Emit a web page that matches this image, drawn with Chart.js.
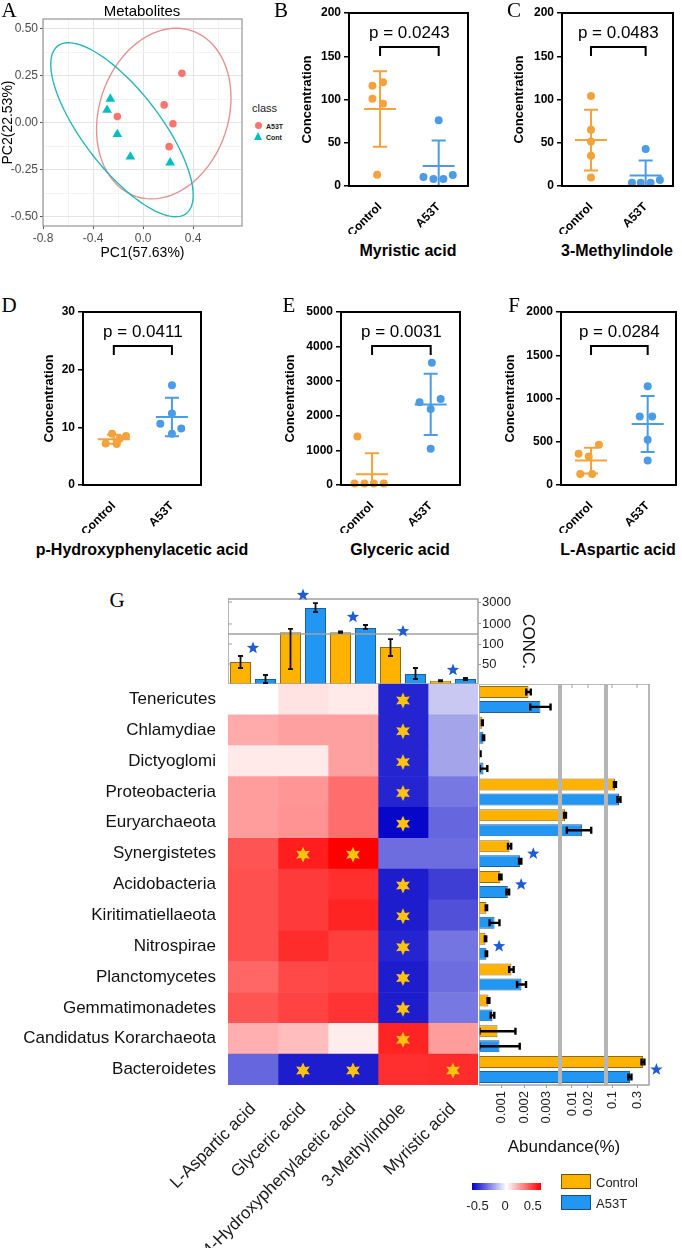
<!DOCTYPE html>
<html>
<head>
<meta charset="utf-8">
<script src="https://cdn.jsdelivr.net/npm/chart.js@4.4.1/dist/chart.umd.min.js"></script>
<style>
  html, body { margin: 0; padding: 0; background: #fff; }
  body { position: relative; width: 682px; height: 1248px; overflow: hidden; font-family: "Liberation Sans", Arial, sans-serif; }
  canvas { position: absolute; }
</style>
</head>
<body>
<script>
const FONT = '"Liberation Sans", Arial, sans-serif';
const SERIF = '"Liberation Serif", "Times New Roman", serif';
const ORANGE = '#F4A33C';
const BLUE = '#4B9BE6';
const BAR_ORANGE = '#FFB300';
const BAR_BLUE = '#2196F3';

// ---- A: PCA of metabolites
const pcaA53TX = [0.31, 0.168, 0.238, -0.206, 0.208];
const pcaA53TY = [0.264, 0.096, -0.004, 0.034, -0.126];
const pcaContX = [-0.262, -0.288, -0.206, -0.102, 0.216];
const pcaContY = [0.128, 0.069, -0.06, -0.18, -0.211];
// confidence ellipses: centre x, centre y, axis vector u, axis vector v
const ellA53T = [0.165, 0.05, 0.537, 0.084, 0, 0.446];
const ellCont = [-0.169, -0.036, 0.569, -0.348, 0, 0.305];
const pcaXTicks = [-0.8, -0.4, 0.0, 0.4];
const pcaYTicks = [-0.5, -0.25, 0, 0.25, 0.5];

// ---- B-F: concentrations per group
const groups = ['Control', 'A53T'];
const myrCtrl = [120, 116, 101, 95, 13];
const myrCtrlJit = [0.05, -0.13, -0.13, 0.05, -0.05];
const myrA53T = [76, 10.4, 8, 8, 12.7];
const myrA53TJit = [0, -0.26, -0.09, 0.08, 0.24];
const myrTicks = [0, 50, 100, 150, 200];

const mIndCtrl = [104, 65, 51.5, 35, 9.7];
const mIndCtrlJit = [0, 0, 0, 0, 0];
const mIndA53T = [42.7, 3.9, 3.9, 3.9, 7];
const mIndA53TJit = [0, -0.25, -0.09, 0.09, 0.26];
const mIndTicks = [0, 50, 100, 150, 200];

const hpaCtrl = [8.9, 8.5, 7.2, 7.1, 8.0];
const hpaCtrlJit = [-0.03, 0.21, -0.14, 0.05, 0.1];
const hpaA53T = [17.3, 12.4, 10.6, 9.8, 8.9];
const hpaA53TJit = [0, 0, -0.2, 0.16, 0];
const hpaTicks = [0, 10, 20, 30];

const glyCtrl = [1400, 40, 40, 40, 40];
const glyCtrlJit = [-0.25, -0.3, -0.13, 0.03, 0.2];
const glyA53T = [3530, 2485, 2390, 2195, 1045];
const glyA53TJit = [0.02, 0.17, -0.19, 0, 0];
const glyTicks = [0, 1000, 2000, 3000, 4000, 5000];

const aspCtrl = [464, 360, 329, 128, 128];
const aspCtrlJit = [0.14, -0.22, -0.04, -0.19, 0.02];
const aspA53T = [1141, 793, 793, 522, 282];
const aspA53TJit = [0, 0.08, -0.14, 0, 0];
const aspTicks = [0, 500, 1000, 1500, 2000];

// ---- G: concentrations (top), correlations (heatmap), abundance (right)
const metabolites = ['L-Aspartic acid', 'Glyceric acid', '4-Hydroxyphenylacetic acid', '3-Methylindole', 'Myristic acid'];
const concCtrl = [55, 660, 660, 92.5, 8];
const concCtrlLo = [40, 37, 640, 70, 6.5];
const concCtrlHi = [70, 780, 690, 112, 9.5];
const concA53T = [12.5, 2230, 820, 25, 12.5];
const concA53TLo = [2.5, 1820, 780, 12.5, 10];
const concA53THi = [22.5, 2850, 950, 40, 15];
const concSig = [true, true, true, true, true];
const concTicks = [50, 100, 1000, 3000];

const phyla = ['Tenericutes', 'Chlamydiae', 'Dictyoglomi', 'Proteobacteria', 'Euryarchaeota', 'Synergistetes',
  'Acidobacteria', 'Kiritimatiellaeota', 'Nitrospirae', 'Planctomycetes', 'Gemmatimonadetes',
  'Candidatus Korarchaeota', 'Bacteroidetes'];
const corrLAsp     = [0.00, 0.23, 0.06, 0.27, 0.27, 0.47, 0.48, 0.48, 0.48, 0.42, 0.47, 0.22, -0.42];
const corrGlyceric = [0.08, 0.26, 0.06, 0.29, 0.30, 0.62, 0.54, 0.54, 0.58, 0.50, 0.52, 0.18, -0.62];
const corrHPA      = [0.06, 0.26, 0.26, 0.40, 0.40, 0.70, 0.57, 0.60, 0.53, 0.52, 0.56, 0.05, -0.62];
const corrMInd     = [-0.60, -0.60, -0.60, -0.60, -0.68, -0.40, -0.62, -0.62, -0.60, -0.62, -0.62, 0.60, 0.57];
const corrMyr      = [-0.15, -0.25, -0.25, -0.37, -0.42, -0.40, -0.53, -0.48, -0.38, -0.40, -0.37, 0.27, 0.58];
// rows holding a significance star, per metabolite column
const starLAsp = [];
const starGlyceric = [5, 12];
const starHPA = [5, 12];
const starMInd = [0, 1, 2, 3, 4, 6, 7, 8, 9, 10, 11];
const starMyr = [12];
const legendTicks = [-0.5, 0, 0.5];

const abunCtrl = [0.0022, 0.00015, 0.00005, 0.114, 0.0074, 0.00136, 0.00095, 0.00033, 0.00029, 0.00144, 0.00042, 0.00082, 0.39];
const abunCtrlErr = [0.0001, 0.00002, 0.00002, 0.005, 0.0003, 0.00007, 0.00005, 0.00003, 0.00003, 0.0001, 0.00004, 0.0008, 0.025];
const abunA53T = [0.00273, 0.0002, 0.0002, 0.136, 0.0155, 0.00183, 0.00128, 0.00069, 0.00033, 0.00189, 0.0006, 0.00091, 0.22];
const abunA53TErr = [0.00045, 0.00003, 0.00017, 0.009, 0.0075, 0.00005, 0.00006, 0.00022, 0.00003, 0.0002, 0.00008, 0.0009, 0.015];
const abunSig = [false, false, false, false, false, true, true, false, true, false, false, false, true];
const abunTicks = [0.001, 0.002, 0.003, 0.01, 0.02, 0.1, 0.3];

Chart.defaults.font.family = FONT;
Chart.defaults.color = '#000';

// axis with broken segments (linear or log each)
class BrokenScale extends Chart.LinearScale {
  getPixelForValue(value) {
    const segs = this.options.segments;
    const total = segs.reduce((s, g) => s + g.size, 0);
    let acc = 0, pos = total;
    for (let k = 0; k < segs.length; k++) {
      const g = segs[k];
      if (value <= g.max || k === segs.length - 1) {
        let f = g.log
          ? (Math.log(Math.max(value, 1e-9)) - Math.log(g.min)) / (Math.log(g.max) - Math.log(g.min))
          : (value - g.min) / (g.max - g.min);
        if (k > 0) f = Math.max(f, 0);
        pos = acc + f * g.size;
        break;
      }
      acc += g.size;
    }
    const t = pos / total;
    return this.isHorizontal() ? this.left + t * this.width : this.bottom - t * this.height;
  }
  getValueForPixel() { return 0; }
}
BrokenScale.id = 'broken';
BrokenScale.defaults = Chart.LinearScale.defaults;
Chart.register(BrokenScale);

// keep chart areas exactly where they are put
function noPad(s) {
  s.paddingTop = 0; s.paddingBottom = 0; s.paddingLeft = 0; s.paddingRight = 0;
}

function place(id, left, top, w, h) {
  const c = document.createElement('canvas');
  c.id = id;
  c.width = w; c.height = h;
  c.style.left = left + 'px'; c.style.top = top + 'px';
  c.style.width = w + 'px'; c.style.height = h + 'px';
  document.body.appendChild(c);
  return c;
}

function addText(text, x, y, style, align) {
  const d = document.createElement('div');
  d.textContent = text;
  d.style.position = 'absolute';
  d.style.left = x + 'px';
  d.style.top = y + 'px';
  d.style.whiteSpace = 'nowrap';
  d.style.lineHeight = '1';
  d.style.color = '#000';
  d.style.transform = align === 'left' ? 'translate(0,-50%)' : 'translate(-50%,-50%)';
  Object.assign(d.style, style || {});
  document.body.appendChild(d);
  return d;
}

function addBox(x, y, w, h, style) {
  const d = document.createElement('div');
  d.style.position = 'absolute';
  d.style.left = x + 'px'; d.style.top = y + 'px';
  d.style.width = w + 'px'; d.style.height = h + 'px';
  d.style.boxSizing = 'border-box';
  Object.assign(d.style, style);
  document.body.appendChild(d);
}

function star(ctx, cx, cy, n, ro, ri) {
  ctx.beginPath();
  for (let k = 0; k < n * 2; k++) {
    const ang = -Math.PI / 2 + k * Math.PI / n;
    const rr = k % 2 === 0 ? ro : ri;
    ctx.lineTo(cx + rr * Math.cos(ang), cy + rr * Math.sin(ang));
  }
  ctx.closePath();
  ctx.fill();
}

const quiet = { legend: { display: false }, tooltip: { enabled: false } };

// plugins
const frameBox = {
  id: 'frameBox',
  afterDraw(chart, args, opts) {
    const { ctx, chartArea: a } = chart;
    ctx.save();
    ctx.strokeStyle = opts.color || '#000';
    ctx.lineWidth = opts.width || 2;
    ctx.strokeRect(a.left, a.top, a.right - a.left, a.bottom - a.top);
    ctx.restore();
  }
};

const ellipses = {
  id: 'ellipses',
  beforeDatasetsDraw(chart) {
    const { ctx, scales: { x, y } } = chart;
    ctx.save();
    chart.data.datasets.forEach(ds => {
      const [cx, cy, ux, uy, vx, vy] = ds.ell;
      ctx.strokeStyle = ds.ellColor;
      ctx.lineWidth = 1.4;
      ctx.beginPath();
      for (let k = 0; k <= 120; k++) {
        const t = k / 120 * Math.PI * 2;
        const px = x.getPixelForValue(cx + ux * Math.cos(t) + vx * Math.sin(t));
        const py = y.getPixelForValue(cy + uy * Math.cos(t) + vy * Math.sin(t));
        if (k === 0) ctx.moveTo(px, py); else ctx.lineTo(px, py);
      }
      ctx.stroke();
    });
    ctx.restore();
  }
};

const meanSd = {
  id: 'meanSd',
  afterDatasetsDraw(chart) {
    const { ctx, chartArea: a, scales: { x, y } } = chart;
    ctx.save();
    ctx.beginPath();
    ctx.rect(a.left, a.top, a.right - a.left, a.bottom - a.top);
    ctx.clip();
    chart.data.datasets.forEach((ds, i) => {
      const vals = ds.data.map(p => p.y);
      const n = vals.length;
      const mean = vals.reduce((s, v) => s + v, 0) / n;
      const sd = Math.sqrt(vals.reduce((s, v) => s + (v - mean) ** 2, 0) / (n - 1));
      const cx = x.getPixelForValue(i + 1);
      const ym = y.getPixelForValue(mean);
      const y1 = y.getPixelForValue(mean + sd);
      const y0 = y.getPixelForValue(mean - sd);
      ctx.strokeStyle = ds.backgroundColor;
      ctx.lineWidth = 2;
      ctx.beginPath();
      ctx.moveTo(cx - 16, ym); ctx.lineTo(cx + 16, ym);
      ctx.moveTo(cx, y0); ctx.lineTo(cx, y1);
      ctx.moveTo(cx - 7, y1); ctx.lineTo(cx + 7, y1);
      ctx.moveTo(cx - 7, y0); ctx.lineTo(cx + 7, y0);
      ctx.stroke();
    });
    ctx.restore();
  }
};

const bracket = {
  id: 'bracket',
  afterDraw(chart, args, opts) {
    const { ctx, chartArea: a, scales: { x } } = chart;
    const x1 = x.getPixelForValue(1), x2 = x.getPixelForValue(2);
    const yb = a.top + 34;
    ctx.save();
    ctx.strokeStyle = '#000';
    ctx.lineWidth = 2;
    ctx.beginPath();
    ctx.moveTo(x1, yb + 9); ctx.lineTo(x1, yb); ctx.lineTo(x2, yb); ctx.lineTo(x2, yb + 9);
    ctx.stroke();
    ctx.fillStyle = '#000';
    ctx.font = '17px ' + FONT;
    ctx.textAlign = 'center';
    ctx.textBaseline = 'middle';
    ctx.fillText(opts.text, (x1 + x2) / 2, a.top + 20);
    ctx.restore();
  }
};

// ---- panel A
const cA = place('pca', 0, 0, 250, 262);
new Chart(cA, {
  type: 'scatter',
  data: {
    datasets: [
      { data: pcaA53TX.map((v, i) => ({ x: v, y: pcaA53TY[i] })), backgroundColor: '#F8766D', pointRadius: 3.8,
        pointStyle: 'circle', borderWidth: 0, ell: ellA53T, ellColor: '#E39490' },
      { data: pcaContX.map((v, i) => ({ x: v, y: pcaContY[i] })), backgroundColor: '#00BFC4', pointRadius: 5.6,
        pointStyle: 'triangle', borderWidth: 0, ell: ellCont, ellColor: '#27B7BA' }
    ]
  },
  options: {
    responsive: false, animation: false, devicePixelRatio: 1, events: [],
    layout: { padding: { top: 19, right: 8, left: 0, bottom: 0 } },
    plugins: { ...quiet, frameBox: { color: '#9e9e9e', width: 1.3 } },
    scales: {
      x: {
        type: 'linear', min: -0.8, max: 0.79,
        afterBuildTicks: s => {
          const t = [];
          pcaXTicks.forEach((v, i) => {
            t.push({ value: v, major: true });
            const step = i < pcaXTicks.length - 1 ? pcaXTicks[i + 1] - v : v - pcaXTicks[i - 1];
            if (v + step / 2 < 0.79) t.push({ value: v + step / 2, major: false });
          });
          s.ticks = t;
        },
        afterFit: s => { s.height = 36; },
        ticks: { autoSkip: false, maxRotation: 0, padding: 2, color: '#4d4d4d', font: { size: 12 },
          callback: (v, i, ticks) => ticks[i].major ? v.toFixed(1) : '' },
        grid: { color: c => c.tick && c.tick.major ? '#e4e4e4' : '#f3f3f3',
          tickColor: c => c.tick && c.tick.major ? '#555' : 'rgba(0,0,0,0)', tickLength: 3 },
        border: { display: false },
        title: { display: true, text: 'PC1(57.63%)', color: '#000', font: { size: 14 }, padding: 0 }
      },
      y: {
        type: 'linear', min: -0.548, max: 0.553,
        afterBuildTicks: s => {
          const t = [];
          pcaYTicks.forEach((v, i) => {
            t.push({ value: v, major: true });
            if (i < pcaYTicks.length - 1) t.push({ value: (v + pcaYTicks[i + 1]) / 2, major: false });
          });
          s.ticks = t;
        },
        afterFit: s => { s.width = 43; },
        ticks: { autoSkip: false, padding: 2, color: '#4d4d4d', font: { size: 12 },
          callback: (v, i, ticks) => ticks[i].major ? v.toFixed(2) : '' },
        grid: { color: c => c.tick && c.tick.major ? '#e4e4e4' : '#f3f3f3',
          tickColor: c => c.tick && c.tick.major ? '#555' : 'rgba(0,0,0,0)', tickLength: 3 },
        border: { display: false },
        title: { display: true, text: 'PC2(22.53%)', color: '#000', font: { size: 14 }, padding: 0 }
      }
    }
  },
  plugins: [ellipses, frameBox]
});

// ---- panels B-F
function dotPanel(id, box, titleX, yTicks, ctrl, ctrlJit, mut, mutJit, pText) {
  const [l, t, r, b] = box;
  const cl = titleX - 8, ct = t - 13;
  const w = r + 6 - cl, h = b + 48 - ct;
  const cv = place(id, cl, ct, w, h);
  return new Chart(cv, {
    type: 'scatter',
    data: {
      datasets: [
        { data: ctrl.map((v, i) => ({ x: 1 + ctrlJit[i], y: v })), backgroundColor: ORANGE, pointRadius: 4,
          borderWidth: 0, clip: false },
        { data: mut.map((v, i) => ({ x: 2 + mutJit[i], y: v })), backgroundColor: BLUE, pointRadius: 4,
          borderWidth: 0, clip: false }
      ]
    },
    options: {
      responsive: false, animation: false, devicePixelRatio: 1, events: [],
      layout: { padding: { top: 13, right: 6, left: 0, bottom: 0 } },
      plugins: { ...quiet, frameBox: { color: '#000', width: 2 }, bracket: { text: pText } },
      scales: {
        x: {
          type: 'linear', min: 0.47, max: 2.5,
          afterBuildTicks: s => { s.ticks = groups.map((g, i) => ({ value: i + 1 })); },
          afterFit: s => { s.height = 48; noPad(s); },
          ticks: { autoSkip: false, minRotation: 45, maxRotation: 45, padding: 6, color: '#000',
            font: { size: 12, weight: 'bold' }, callback: v => groups[v - 1] },
          grid: { display: false },
          border: { display: false }
        },
        y: {
          type: 'linear', min: yTicks[0], max: yTicks[yTicks.length - 1],
          afterBuildTicks: s => { s.ticks = yTicks.map(v => ({ value: v })); },
          afterFit: s => { s.width = l - cl; noPad(s); },
          ticks: { autoSkip: false, padding: 3, color: '#000', font: { size: 12, weight: 'bold' }, callback: v => String(v) },
          grid: { drawOnChartArea: false, drawTicks: true, tickLength: 5, color: '#000', lineWidth: 1.5 },
          border: { display: false },
          title: { display: true, text: 'Concentration', color: '#000', font: { size: 13, weight: 'bold' }, padding: 0 }
        }
      }
    },
    plugins: [frameBox, meanSd, bracket]
  });
}

dotPanel('myr', [349, 13, 468, 186], 308, myrTicks, myrCtrl, myrCtrlJit, myrA53T, myrA53TJit, 'p = 0.0243');
dotPanel('mind', [562, 13, 673, 186], 520, mIndTicks, mIndCtrl, mIndCtrlJit, mIndA53T, mIndA53TJit, 'p = 0.0483');
dotPanel('hpa', [83, 312, 201, 485], 50, hpaTicks, hpaCtrl, hpaCtrlJit, hpaA53T, hpaA53TJit, 'p = 0.0411');
dotPanel('gly', [341, 312, 460, 485], 291, glyTicks, glyCtrl, glyCtrlJit, glyA53T, glyA53TJit, 'p = 0.0031');
dotPanel('asp', [561, 312, 676, 485], 511, aspTicks, aspCtrl, aspCtrlJit, aspA53T, aspA53TJit, 'p = 0.0284');

// ---- G: concentration bars on a broken axis
const concPlugin = {
  id: 'concPlugin',
  afterDatasetsDraw(chart) {
    const { ctx, chartArea: a, scales: { x, y } } = chart;
    const segs = y.options.segments;
    ctx.save();
    ctx.strokeStyle = '#a0a0a0';
    ctx.lineWidth = 1.5;
    ctx.strokeRect(a.left, a.top, a.right - a.left, a.bottom - a.top);
    const yBreak = y.getPixelForValue(segs[0].max);
    ctx.beginPath(); ctx.moveTo(a.left, yBreak); ctx.lineTo(a.right, yBreak); ctx.stroke();
    ctx.lineWidth = 1;
    ctx.beginPath();
    y.ticks.forEach(t => { const p = y.getPixelForValue(t.value); ctx.moveTo(a.left, p); ctx.lineTo(a.left + 4, p); });
    ctx.stroke();
    // error bars
    ctx.strokeStyle = '#111';
    ctx.lineWidth = 1.8;
    const tops = [];
    chart.data.datasets.forEach((ds, di) => {
      const meta = chart.getDatasetMeta(di);
      ds.data.forEach((v, i) => {
        const bx = meta.data[i].x;
        const pLo = y.getPixelForValue(ds.lo[i]), pHi = y.getPixelForValue(ds.hi[i]);
        ctx.beginPath();
        ctx.moveTo(bx, pLo); ctx.lineTo(bx, pHi);
        ctx.moveTo(bx - 2.5, pLo); ctx.lineTo(bx + 2.5, pLo);
        ctx.moveTo(bx - 2.5, pHi); ctx.lineTo(bx + 2.5, pHi);
        ctx.stroke();
        tops[i] = Math.min(tops[i] === undefined ? Infinity : tops[i], pHi);
      });
    });
    ctx.fillStyle = '#1F5BD6';
    concSig.forEach((s, i) => { if (s) star(ctx, x.getPixelForValue(i), tops[i] - 8, 5, 6.5, 2.7); });
    ctx.restore();
  }
};

const cTop = place('conc', 228, 585, 310, 99);
new Chart(cTop, {
  type: 'bar',
  data: {
    labels: metabolites,
    datasets: [
      { data: concCtrl, lo: concCtrlLo, hi: concCtrlHi, backgroundColor: BAR_ORANGE, borderColor: '#8C6D1F', borderWidth: 1 },
      { data: concA53T, lo: concA53TLo, hi: concA53THi, backgroundColor: BAR_BLUE, borderColor: '#1D5F99', borderWidth: 1 }
    ]
  },
  options: {
    responsive: false, animation: false, devicePixelRatio: 1, events: [],
    layout: { padding: { top: 14, right: 0, left: 0, bottom: 0 } },
    plugins: quiet,
    datasets: { bar: { barPercentage: 0.84, categoryPercentage: 1.0 } },
    scales: {
      x: { type: 'category', display: false },
      y: {
        type: 'broken', position: 'right', min: 0, max: 3490,
        segments: [{ min: 0, max: 125, size: 50 }, { min: 606, max: 3490, size: 35, log: true }],
        afterBuildTicks: s => { s.ticks = concTicks.map(v => ({ value: v })); },
        afterFit: s => { s.width = 60; noPad(s); },
        ticks: { autoSkip: false, padding: 1, color: '#222', font: { size: 13 }, callback: v => String(v) },
        grid: { drawOnChartArea: false, tickLength: 3, color: '#999' },
        border: { display: false },
        title: { display: true, text: 'CONC.', color: '#111', font: { size: 17 }, padding: 0 }
      }
    }
  },
  plugins: [concPlugin]
});

// ---- G: correlation heatmap
function heatColor(v) {
  const t = Math.min(Math.abs(v) / 0.7, 1);
  if (v >= 0) {
    const g = Math.round(255 * (1 - t));
    return `rgb(255,${g},${g})`;
  }
  const c = Math.round(255 * (1 - t));
  return `rgb(${c},${c},${Math.round(255 - 55 * t)})`;
}

const corrCols = [corrLAsp, corrGlyceric, corrHPA, corrMInd, corrMyr];
const starCols = [starLAsp, starGlyceric, starHPA, starMInd, starMyr];

const heatStars = {
  id: 'heatStars',
  afterDatasetsDraw(chart) {
    const { ctx, scales: { x, y } } = chart;
    ctx.save();
    ctx.fillStyle = '#FFC20E';
    starCols.forEach((rows, c) => {
      rows.forEach(r => star(ctx, x.getPixelForValue(c + 0.5), y.getPixelForValue(r) + 1, 6, 8, 4));
    });
    ctx.restore();
  }
};

const cHeat = place('heat', 0, 684, 480, 564);
new Chart(cHeat, {
  type: 'bar',
  data: {
    labels: phyla,
    datasets: corrCols.map((col, c) => ({
      label: metabolites[c],
      data: col.map(() => 1),
      backgroundColor: col.map(heatColor),
      borderWidth: 0
    }))
  },
  options: {
    indexAxis: 'y',
    responsive: false, animation: false, devicePixelRatio: 1, events: [],
    layout: { padding: { top: 0, right: 2, left: 0, bottom: 0 } },
    plugins: quiet,
    datasets: { bar: { barPercentage: 1, categoryPercentage: 1 } },
    scales: {
      x: {
        type: 'linear', stacked: true, min: 0, max: metabolites.length,
        afterBuildTicks: s => { s.ticks = metabolites.map((m, i) => ({ value: i + 0.5 })); },
        afterFit: s => { s.height = 163; noPad(s); },
        ticks: { autoSkip: false, minRotation: 45, maxRotation: 45, padding: 6, color: '#1a1a1a',
          font: { size: 17 }, callback: (v, i) => metabolites[i] },
        grid: { display: false },
        border: { display: false }
      },
      y: {
        type: 'category', stacked: true,
        afterFit: s => { s.width = 228; noPad(s); },
        ticks: { autoSkip: false, padding: 4, color: '#111', font: { size: 17 } },
        grid: { display: false },
        border: { display: false }
      }
    }
  },
  plugins: [heatStars]
});

// ---- G: abundance bars on a broken axis
const abunPlugin = {
  id: 'abunPlugin',
  afterDatasetsDraw(chart) {
    const { ctx, chartArea: a, scales: { x } } = chart;
    const segs = x.options.segments;
    ctx.save();
    // error bars
    ctx.strokeStyle = '#000';
    ctx.lineWidth = 2.4;
    const ends = [];
    chart.data.datasets.forEach((ds, di) => {
      const meta = chart.getDatasetMeta(di);
      ds.data.forEach((v, i) => {
        const by = meta.data[i].y;
        const p0 = x.getPixelForValue(Math.max(v - ds.err[i], 0));
        const p1 = x.getPixelForValue(v + ds.err[i]);
        ctx.beginPath();
        ctx.moveTo(p0, by); ctx.lineTo(p1, by);
        ctx.moveTo(p0, by - 3.5); ctx.lineTo(p0, by + 3.5);
        ctx.moveTo(p1, by - 3.5); ctx.lineTo(p1, by + 3.5);
        ctx.stroke();
        ends[i] = Math.max(ends[i] || 0, p1);
      });
    });
    // segment frames
    ctx.strokeStyle = '#a3a3a3';
    ctx.lineWidth = 1.5;
    segs.forEach((g, k) => {
      const x0 = k === 0 ? a.left : x.getPixelForValue(g.min);
      const x1 = k === segs.length - 1 ? a.right : x.getPixelForValue(g.max);
      ctx.strokeRect(x0, a.top, x1 - x0, a.bottom - a.top);
      if (k > 0) {
        ctx.fillStyle = '#b5b5b5';
        ctx.fillRect(x0 - 2, a.top, 4, a.bottom - a.top);
      }
    });
    ctx.lineWidth = 1;
    ctx.beginPath();
    abunTicks.filter(v => v > segs[0].max).forEach(v => {
      const p = x.getPixelForValue(v);
      ctx.moveTo(p, a.top); ctx.lineTo(p, a.top + 4);
    });
    ctx.stroke();
    const yScale = chart.scales.y;
    ctx.fillStyle = '#1F5BD6';
    abunSig.forEach((s, i) => { if (s) star(ctx, ends[i] + 12, yScale.getPixelForValue(i), 5, 6.5, 2.7); });
    ctx.restore();
  }
};

const cAb = place('abund', 479, 684, 203, 474);
new Chart(cAb, {
  type: 'bar',
  data: {
    labels: phyla,
    datasets: [
      { data: abunCtrl, err: abunCtrlErr, backgroundColor: BAR_ORANGE, borderColor: '#8C6D1F', borderWidth: 1 },
      { data: abunA53T, err: abunA53TErr, backgroundColor: BAR_BLUE, borderColor: '#1D5F99', borderWidth: 1 }
    ]
  },
  options: {
    indexAxis: 'y',
    responsive: false, animation: false, devicePixelRatio: 1, events: [],
    layout: { padding: { top: 0, right: 33, left: 0, bottom: 0 } },
    plugins: quiet,
    datasets: { bar: { barPercentage: 0.8, categoryPercentage: 0.97 } },
    scales: {
      y: { type: 'category', display: false },
      x: {
        type: 'broken', min: 0, max: 0.508,
        segments: [
          { min: 0, max: 0.0036, size: 81 },
          { min: 0.00595, max: 0.0437, size: 46, log: true },
          { min: 0.0768, max: 0.508, size: 43, log: true }
        ],
        afterBuildTicks: s => { s.ticks = abunTicks.map(v => ({ value: v })); },
        afterFit: s => { s.height = 73; noPad(s); },
        ticks: { autoSkip: false, minRotation: 90, maxRotation: 90, padding: 3, color: '#222', font: { size: 13 },
          callback: v => String(v) },
        grid: { drawOnChartArea: false, tickLength: 3, color: '#999' },
        border: { display: false },
        title: { display: true, text: 'Abundance(%)', color: '#111', font: { size: 17 }, padding: { top: 6, bottom: 0 } }
      }
    }
  },
  plugins: [abunPlugin]
});

// ---- text, letters and legends
const letter = { fontFamily: SERIF, fontSize: '21px' };
addText('A', 9, 10, letter);
addText('B', 281, 10, letter);
addText('C', 514, 10, letter);
addText('D', 9, 305, letter);
addText('E', 289, 305, letter);
addText('F', 514, 305, letter);
addText('G', 117, 600, letter);

addText('Metabolites', 142, 10, { fontSize: '15px' });
addText('class', 252, 108, { fontSize: '11px', color: '#222' }, 'left');
addBox(255, 122, 7, 7, { background: '#F8766D', borderRadius: '50%' });
addBox(254, 132, 0, 0, { borderLeft: '4.5px solid transparent', borderRight: '4.5px solid transparent', borderBottom: '8px solid #00BFC4' });
addText('A53T', 266, 126, { fontSize: '7px', fontWeight: 'bold', color: '#222' }, 'left');
addText('Cont', 266, 137, { fontSize: '7px', fontWeight: 'bold', color: '#222' }, 'left');

const ptitle = { fontSize: '16px', fontWeight: 'bold' };
addText('Myristic acid', 408, 251, ptitle);
addText('3-Methylindole', 617, 251, ptitle);
addText('p-Hydroxyphenylacetic acid', 142, 550, ptitle);
addText('Glyceric acid', 400, 550, ptitle);
addText('L-Aspartic acid', 618, 550, ptitle);

addBox(472, 1183, 69, 7, { background: 'linear-gradient(to right, rgb(0,0,200), #ffffff, rgb(255,0,0))' });
const barLeft = 472, barW = 69, lo = -0.6, hi = 0.65;
legendTicks.forEach(v => {
  addText(String(v), barLeft + (v - lo) / (hi - lo) * barW, 1205, { fontSize: '13px', color: '#222' });
});
addBox(561, 1174, 30, 15, { background: BAR_ORANGE, border: '1px solid #6b5418' });
addBox(561, 1195, 30, 15, { background: BAR_BLUE, border: '1px solid #1a4f80' });
addText('Control', 596, 1182, { fontSize: '13px', color: '#222' }, 'left');
addText('A53T', 596, 1203, { fontSize: '13px', color: '#222' }, 'left');
</script>
</body>
</html>
